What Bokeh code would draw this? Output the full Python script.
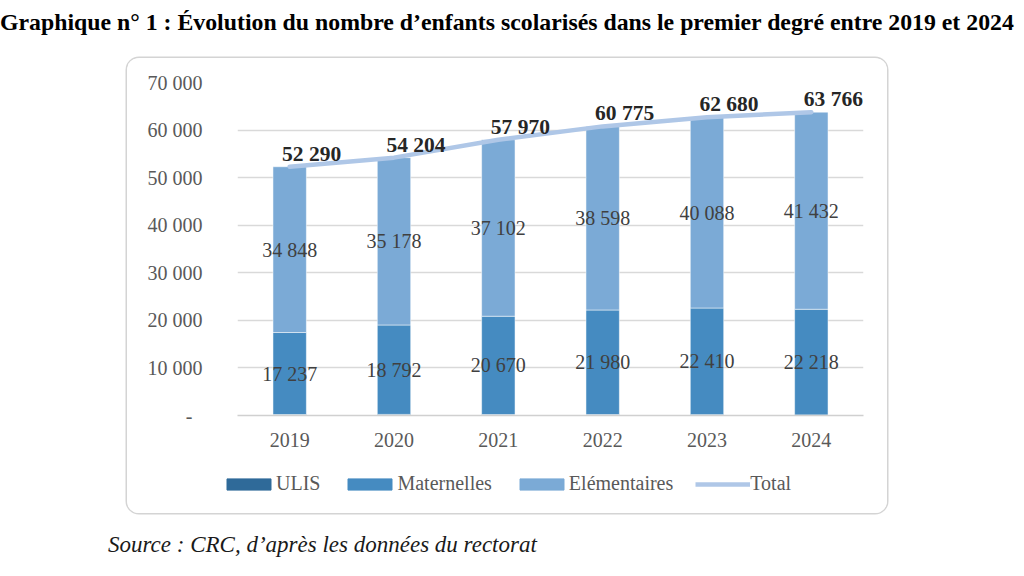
from bokeh.plotting import figure
from bokeh.models import (Range1d, FixedTicker, Legend, LegendItem, ColumnDataSource, Div, Spacer)
from bokeh.layouts import column, row
from bokeh.core.properties import value
from bokeh.embed import file_html
from bokeh.resources import INLINE

years = [2019, 2020, 2021, 2022, 2023, 2024]
ulis = [205, 234, 198, 197, 182, 116]
maternelles = [17237, 18792, 20670, 21980, 22410, 22218]
elementaires = [34848, 35178, 37102, 38598, 40088, 41432]
total = [52290, 54204, 57970, 60775, 62680, 63766]
y_ticks = [0, 10000, 20000, 30000, 40000, 50000, 60000, 70000]
y_tick_labels = ["-\u00a0\u00a0", "10 000", "20 000", "30 000", "40 000", "50 000", "60 000", "70 000"]
series_names = ["ULIS", "Maternelles", "Elémentaires", "Total"]

title_text = "Graphique n° 1 : Évolution du nombre d’enfants scolarisés dans le premier degré entre 2019 et 2024"
source_text = "Source : CRC, d’après les données du rectorat"

C_ULIS = "#2F6A99"
C_MAT = "#458BC1"
C_ELEM = "#7BAAD6"
C_TOT = "#AFC7E7"
SERIF = "Liberation Serif"


def fmt(v):
    return f"{v:,}".replace(",", " ")


mat_mid = [u + m / 2 for u, m in zip(ulis, maternelles)]
elem_mid = [u + m + e / 2 for u, m, e in zip(ulis, maternelles, elementaires)]

src = ColumnDataSource(dict(
    year=years, ULIS=ulis, Maternelles=maternelles, Elementaires=elementaires,
    total=total, total_lbl=[fmt(v) for v in total],
    mat_mid=mat_mid, mat_lbl=[fmt(v) for v in maternelles],
    elem_mid=elem_mid, elem_lbl=[fmt(v) for v in elementaires],
))
stack_cols = ["ULIS", "Maternelles", "Elementaires"]
bar_colors = [C_ULIS, C_MAT, C_ELEM]

# ---- main chart ----
p = figure(width=760, height=400, output_backend="svg", toolbar_location=None,
           x_range=Range1d(2018.5, 2024.5), y_range=Range1d(0, 70000),
           min_border_left=110, min_border_right=24, min_border_top=24, min_border_bottom=43,
           background_fill_color="white", border_fill_color="white")
p.outline_line_color = None
p.frame_align = False

bars = p.vbar_stack(stack_cols, x="year", width=0.32, source=src,
                    color=bar_colors, line_color="white", line_width=0.5)

p.text(x="year", y="mat_mid", text="mat_lbl", source=src, text_align="center", text_baseline="middle",
       text_font=value(SERIF), text_font_size="20px", text_color="#404040")
p.text(x="year", y="elem_mid", text="elem_lbl", source=src, text_align="center", text_baseline="middle",
       text_font=value(SERIF), text_font_size="20px", text_color="#404040")

tline = p.line(x="year", y="total", source=src, line_color=C_TOT, line_width=4.5, line_cap="round")
p.text(x="year", y="total", text="total_lbl", source=src, text_align="center", text_baseline="middle",
       x_offset=22, y_offset=-13,
       text_font=value(SERIF), text_font_size="21.5px", text_font_style="bold", text_color="#262626")

p.yaxis.ticker = FixedTicker(ticks=y_ticks)
p.yaxis.major_label_overrides = {t: l for t, l in zip(y_ticks, y_tick_labels)}
p.yaxis.axis_line_color = None
p.yaxis.major_tick_line_color = None
p.yaxis.minor_tick_line_color = None
p.yaxis.major_label_standoff = 29
p.yaxis.major_label_text_font = SERIF
p.yaxis.major_label_text_font_size = "20px"
p.yaxis.major_label_text_color = "#595959"

p.xaxis.ticker = FixedTicker(ticks=years)
p.xaxis.major_label_overrides = {y: str(y) for y in years}
p.xaxis.axis_line_color = "#D0D0D0"
p.xaxis.axis_line_width = 1.5
p.xaxis.major_tick_line_color = None
p.xaxis.minor_tick_line_color = None
p.xaxis.major_label_standoff = 11
p.xaxis.major_label_text_font = SERIF
p.xaxis.major_label_text_font_size = "20px"
p.xaxis.major_label_text_color = "#595959"

p.xgrid.grid_line_color = None
p.ygrid.grid_line_color = "#D9D9D9"
p.ygrid.grid_line_width = 1.3

# ---- legend strip: same series, same styles, plotted out of view ----
lg = figure(width=760, height=55, output_backend="svg", toolbar_location=None,
            x_range=Range1d(0, 1), y_range=Range1d(0, 1),
            min_border=0, background_fill_color="white", border_fill_color="white")
lg.outline_line_color = None
lg.frame_align = False
lg.axis.visible = False
lg.grid.visible = False
sw = lg.vbar_stack(stack_cols, x="year", width=0.32, source=src, color=bar_colors)
sl = lg.line(x="year", y="total", source=src, line_color=C_TOT, line_width=4.5)
legend = Legend(items=[LegendItem(label=series_names[0], renderers=[sw[0]]),
                       LegendItem(label=series_names[1], renderers=[sw[1]]),
                       LegendItem(label=series_names[2], renderers=[sw[2]]),
                       LegendItem(label=series_names[3], renderers=[sl])],
                orientation="horizontal", location=(94, 18),
                padding=0, margin=0, spacing=22, label_standoff=0,
                glyph_width=55, glyph_height=14, label_height=20,
                border_line_color=None, background_fill_alpha=0,
                label_text_font=SERIF, label_text_font_size="20px", label_text_color="#595959")
lg.add_layout(legend)

box = column(p, lg, spacing=0,
             styles={"box-shadow": "0 0 0 1.5px #D4D4D4", "border-radius": "12px", "overflow": "hidden"})

title_div = Div(width=1024, height=58, margin=0,
                text=f"<div style=\"font-family:'{SERIF}';font-weight:bold;font-size:23.8px;"
                     f"white-space:nowrap;line-height:24px;padding-top:10px;color:#000\">{title_text}</div>")
source_div = Div(width=1024, height=63, margin=0,
                 text=f"<div style=\"font-family:'{SERIF}';font-style:italic;font-size:23px;"
                      f"white-space:nowrap;line-height:24px;padding-top:20px;padding-left:108px;color:#1a1a1a\">"
                      f"{source_text}</div>")

layout = column(title_div, row(Spacer(width=127, height=455), box, spacing=0), source_div, spacing=0)

open("out.html", "w").write(file_html(layout, INLINE))
